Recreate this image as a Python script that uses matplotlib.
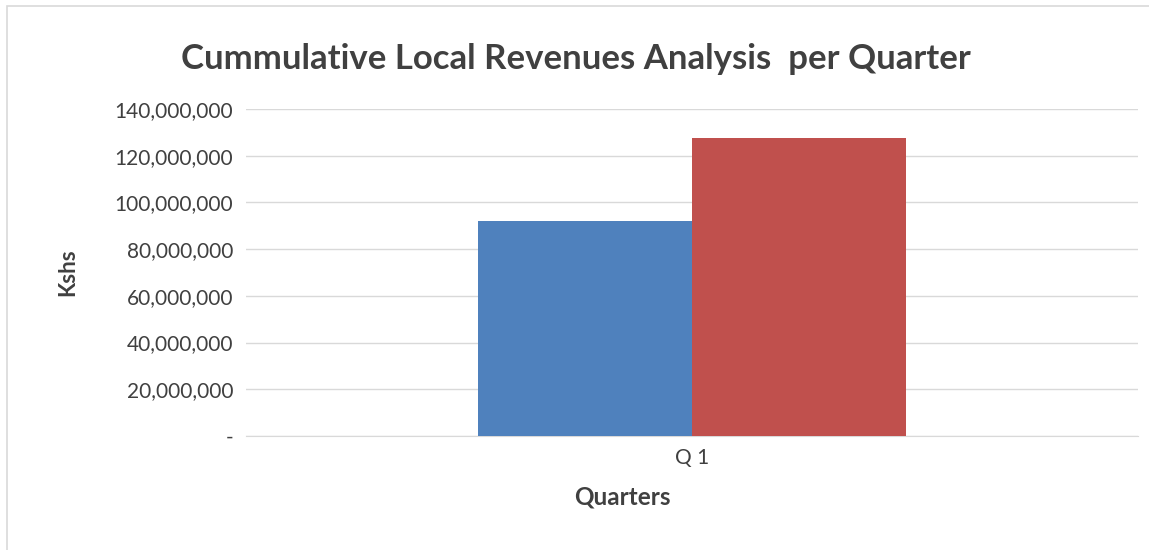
import matplotlib.pyplot as plt
import matplotlib.ticker as mticker
from matplotlib.patches import Rectangle
import numpy as np

plt.rcParams['font.family'] = ['Lato', 'DejaVu Sans']

# data
quarters = ['Q 1']
series_a = [92000000]
series_b = [127600000]
colors = ['#4F81BD', '#C0504D']
text_col = '#404040'

fig = plt.figure(figsize=(11.49, 5.5), dpi=100)
ax = fig.add_axes([0.214, 0.2073, 0.776, 0.5945])

x = np.arange(len(quarters))
w = 0.24
ax.bar(x - w / 2, series_a, w, color=colors[0], zorder=3)
ax.bar(x + w / 2, series_b, w, color=colors[1], zorder=3)

ax.set_xlim(-0.5, 0.5)
ax.set_ylim(0, 140000000)
ax.set_yticks(np.arange(0, 140000001, 20000000))

def fmt(v, pos):
    return '-' if v == 0 else f'{int(v):,}'

ax.yaxis.set_major_formatter(mticker.FuncFormatter(fmt))
ax.set_xticks(x)
ax.set_xticklabels(quarters)

ax.grid(axis='y', color='#D9D9D9', linewidth=1, zorder=0)
for s in ['top', 'right', 'left']:
    ax.spines[s].set_visible(False)
ax.spines['bottom'].set_color('#D9D9D9')
ax.tick_params(axis='both', length=0, labelsize=15, colors=text_col)
ax.tick_params(axis='x', pad=9)
ax.tick_params(axis='y', pad=9)

ax.set_xlabel('Quarters', fontsize=17.5, fontweight='bold', color=text_col,
              labelpad=12, x=0.4226)
ax.set_ylabel('Kshs', fontsize=16, fontweight='bold', color=text_col, labelpad=26)

fig.text(0.5015, 0.892, 'Cummulative Local Revenues Analysis  per Quarter',
         ha='center', va='center', fontsize=25, fontweight='bold', color=text_col)

# outer chart border
fig.patches.append(Rectangle((0.006, -0.01), 1.0, 1.0, transform=fig.transFigure,
                             fill=False, edgecolor='#D9D9D9', linewidth=1.2))

fig.savefig('out.png', dpi=100)
